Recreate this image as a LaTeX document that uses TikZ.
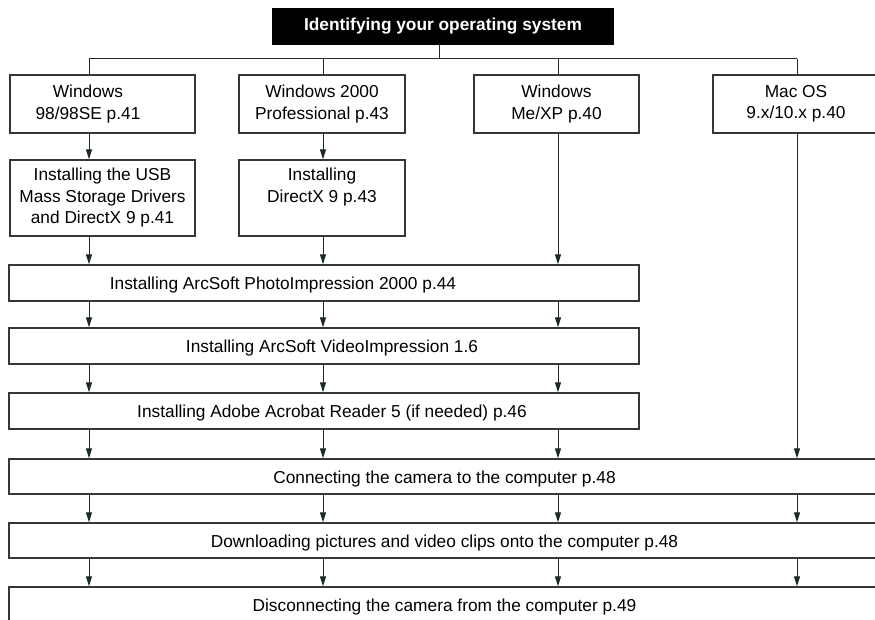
\documentclass[tikz,border=0pt]{standalone}
\usepackage{fontspec}
\setmainfont{Liberation Sans}
\usetikzlibrary{arrows.meta}
\definecolor{linegray}{RGB}{55,55,55}
\definecolor{arrowdark}{RGB}{28,42,42}
\tikzset{
  box/.style={draw=linegray, line width=1.4pt, align=center, inner sep=0pt,
    font=\fontsize{17.3pt}{21.5pt}\selectfont},
  osbox/.style={box, minimum height=58pt},
  stepbar/.style={box, minimum height=36pt, text height=13pt, text depth=0pt},
  wire/.style={arrowdark, line width=1pt},
  arr/.style={wire, -{Triangle[length=10pt,width=6pt]}},
}
\begin{document}
\begin{tikzpicture}[x=1pt,y=-1pt]
  \useasboundingbox (0,0) rectangle (875,620);
  \fill[white] (0,0) rectangle (875,620);
  \clip (0,0) rectangle (875,620);
  % columns of the flow
  \coordinate (ct) at (439,0);
  \coordinate (c1) at (89,0);
  \coordinate (c2) at (323,0);
  \coordinate (c3) at (558,0);
  \coordinate (c4) at (797,0);
  \coordinate (bus) at (0,59);

  \node[fill=black, text=white, minimum width=342pt, minimum height=37pt,
    font=\bfseries\fontsize{17.3pt}{21.5pt}\selectfont] (title) at (443,26.5)
    {Identifying your operating system};

  % operating systems
  \node[osbox, minimum width=185pt] (win98) at (102.5,104) {Windows\hspace*{29pt}\\98/98SE p.41\hspace*{29pt}};
  \node[osbox, minimum width=166pt] (win2k) at (322,104) {Windows 2000\\Professional p.43};
  \node[osbox, minimum width=165pt] (winxp) at (556.5,104) {Windows\\Me/XP p.40};
  \node[osbox, minimum width=166pt] (mac) at (796,104) {Mac OS\\9.x/10.x p.40};

  \node[box, minimum width=185pt, minimum height=76pt] (usb) at (102.5,198)
    {Installing the USB\\Mass Storage Drivers\\and DirectX 9 p.41};
  \node[box, minimum width=166pt, minimum height=76pt] (dx) at (322,198)
    {Installing\\DirectX 9 p.43\\\vphantom{p}};

  % common steps
  \node[stepbar, minimum width=630pt] (photo) at (324,283) {Installing ArcSoft PhotoImpression 2000 p.44\hspace*{82pt}};
  \node[stepbar, minimum width=630pt] (video) at (324,346) {\hspace*{16pt}Installing ArcSoft VideoImpression 1.6};
  \node[stepbar, minimum width=630pt] (acro) at (324,411) {\hspace*{16pt}Installing Adobe Acrobat Reader 5 (if needed) p.46};
  \node[stepbar, minimum width=871pt, minimum height=35pt] (conn) at (444.5,476.5) {Connecting the camera to the computer p.48};
  \node[stepbar, minimum width=871pt, minimum height=35pt] (down) at (444.5,540.5) {Downloading pictures and video clips onto the computer p.48};
  \node[stepbar, minimum width=871pt, minimum height=35pt] (disc) at (444.5,604.5) {Disconnecting the camera from the computer p.49};

  % connectors
  \draw[wire] (title.south -| ct) -- (ct |- bus);
  \draw[wire] (c1 |- bus) -- (c4 |- bus);
  \foreach \c/\n in {c1/win98,c2/win2k,c3/winxp,c4/mac}
    \draw[wire] (\c |- bus) -- (\n.north -| \c);

  \draw[arr] (win98.south -| c1) -- (usb.north -| c1);
  \draw[arr] (win2k.south -| c2) -- (dx.north -| c2);
  \draw[arr] (usb.south -| c1) -- (photo.north -| c1);
  \draw[arr] (dx.south -| c2) -- (photo.north -| c2);
  \draw[arr] (winxp.south -| c3) -- (photo.north -| c3);
  \draw[arr] (mac.south -| c4) -- (conn.north -| c4);
  \foreach \a/\b in {photo/video,video/acro,acro/conn}
    \foreach \c in {c1,c2,c3}
      \draw[arr] (\a.south -| \c) -- (\b.north -| \c);
  \foreach \a/\b in {conn/down,down/disc}
    \foreach \c in {c1,c2,c3,c4}
      \draw[arr] (\a.south -| \c) -- (\b.north -| \c);
\end{tikzpicture}
\end{document}
